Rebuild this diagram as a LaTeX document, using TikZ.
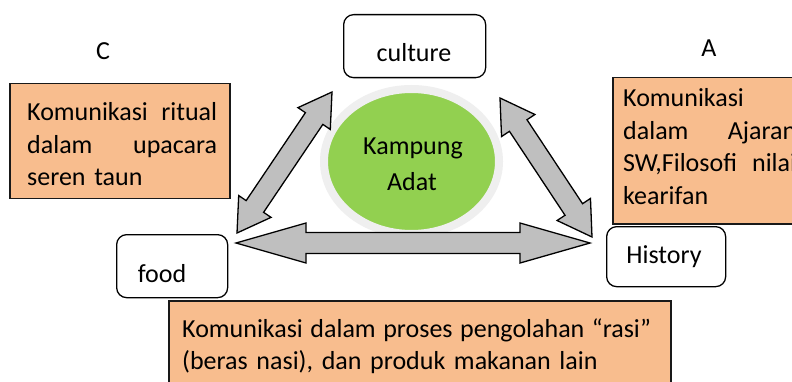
\documentclass[tikz,border=0pt]{standalone}
\usepackage{fontspec}
\setmainfont{Carlito}
\usetikzlibrary{calc}

\definecolor{peach}{HTML}{F8BD8E}
\definecolor{leaf}{HTML}{92D050}
\definecolor{halo}{HTML}{EFEFEF}
\definecolor{arrowgray}{HTML}{BFBFBF}

% double-headed block arrow between two named points:
% #1,#2 tips, #3 shaft half-width, #4 head half-width, #5 head length
\newcommand\dblarrow[5]{%
  \coordinate (da1) at ($(#1)!#5!(#2)$);
  \coordinate (da2) at ($(#2)!#5!(#1)$);
  \draw[blockarrow] (#1) -- ($(da1)!#4!90:(#2)$) -- ($(da1)!#3!90:(#2)$)
    -- ($(da2)!#3!-90:(#1)$) -- ($(da2)!#4!-90:(#1)$) -- (#2)
    -- ($(da2)!#4!90:(#1)$) -- ($(da2)!#3!90:(#1)$)
    -- ($(da1)!#3!-90:(#2)$) -- ($(da1)!#4!-90:(#2)$) -- cycle;
}
% a line whose word spaces are stretched to the given width
\newcommand\fullline[2]{\leavevmode\hbox to #1{\spaceskip 0.22em plus 1fil\relax #2}}
% text face used throughout
\newcommand\diagfont{\fontsize{26pt}{32.5pt}\selectfont
  \spaceskip 0.22em plus 0.1em minus 0.05em\relax}

\tikzset{
  roundbox/.style={draw=black, line width=1.3pt, rounded corners=10pt, fill=white,
    anchor=north west, inner sep=0pt},
  notebox/.style={draw=black!90, line width=1.5pt, fill=peach,
    anchor=north west, inner sep=0pt},
  label/.style={anchor=base, inner sep=0pt},
  para/.style={anchor=base west, inner sep=0pt},
  blockarrow/.style={draw=black, line width=1.3pt, fill=arrowgray, line join=miter},
}

\begin{document}
\begin{tikzpicture}[x=1pt, y=-1pt, font=\diagfont]
  \clip (0,0) rectangle (792,382);
  \fill[white] (0,0) rectangle (792,382);

  % centre: Kampung Adat
  \draw[halo, line width=8pt, fill=leaf] (411.5,161.5) ellipse [x radius=87.5, y radius=72.5];
  \node[label] (kampung) at (413,155) {Kampung};
  \node[label] (adat) at (412,191) {Adat};

  % the three topic boxes
  \node[roundbox, minimum width=142pt, minimum height=63pt] (culture) at (343,14) {};
  \node[label] (culturetext) at (414,62) {culture};
  \node[roundbox, minimum width=111pt, minimum height=63pt] (food) at (116,234) {};
  \node[label] (foodtext) at (162,282) {food};
  \node[roundbox, minimum width=119pt, minimum height=60pt] (history) at (606,226) {};
  \node[label] (historytext) at (664,263) {History};

  % letters above the notes
  \node[label] (labC) at (103,60) {C};
  \node[label] (labA) at (709,57) {A};

  % notes
  \node[notebox, minimum width=220pt, minimum height=115pt] (noteC) at (9,83) {};
  \node[para, text width=190pt] (noteCtext) at (27,121)
    {\fullline{190pt}{Komunikasi ritual}\\
     \fullline{190pt}{dalam upacara}\\
     seren taun};

  \node[notebox, minimum width=210pt, minimum height=146pt] (noteA) at (612,77) {};
  \node[para, text width=173pt] (noteAtext) at (623,107)
    {Komunikasi\\
     \fullline{173pt}{dalam Ajaran}\\
     \fullline{173pt}{SW,Filosofi nilai}\\
     kearifan};

  \node[notebox, minimum width=502pt, minimum height=100pt] (noteB) at (168,300) {};
  \node[para, text width=480pt] (noteBtext) at (182,337)
    {\fullline{469pt}{Komunikasi dalam proses pengolahan “rasi”}\\
     (beras nasi), dan produk makanan lain};

  % arrow ends beside the boxes
  \coordinate (foodup) at (237,233);
  \coordinate (cultleft) at (332,92);
  \coordinate (cultright) at (500,98);
  \coordinate (histup) at (592,237);
  \coordinate (foodright) at (236,243);
  \coordinate (histleft) at (590,243);

  \dblarrow{foodup}{cultleft}{10.5pt}{19.5pt}{32pt}
  \dblarrow{cultright}{histup}{10.5pt}{20pt}{33pt}
  \dblarrow{foodright}{histleft}{10.5pt}{20pt}{70pt}
\end{tikzpicture}
\end{document}
